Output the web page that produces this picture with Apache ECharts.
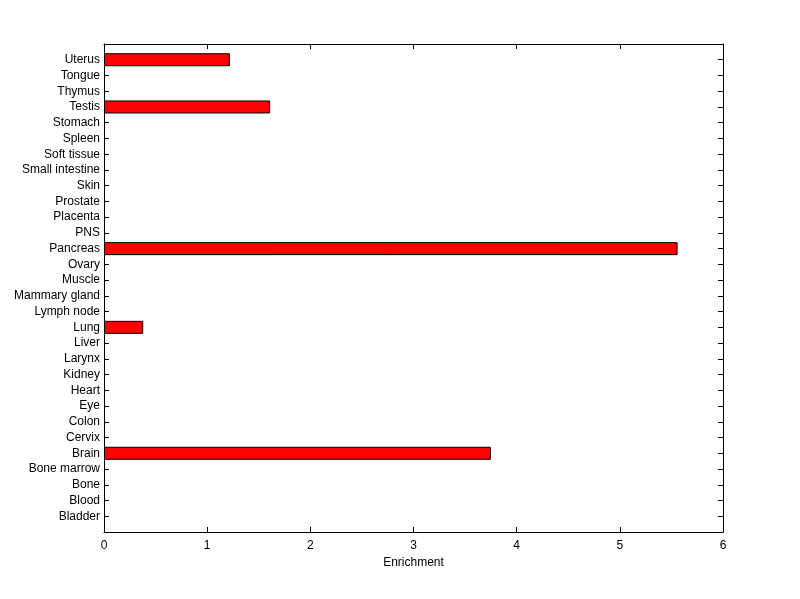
<!DOCTYPE html>
<html><head><meta charset="utf-8">
<script src="https://cdn.jsdelivr.net/npm/echarts@6/dist/echarts.min.js"></script>
<style>html,body{margin:0;padding:0;background:#fff}#c{width:800px;height:599px}</style>
</head><body><div id="c"></div>
<script>
const categories = ['Bladder','Blood','Bone','Bone marrow','Brain','Cervix','Colon','Eye','Heart','Kidney','Larynx','Liver','Lung','Lymph node','Mammary gland','Muscle','Ovary','Pancreas','PNS','Placenta','Prostate','Skin','Small intestine','Soft tissue','Spleen','Stomach','Testis','Thymus','Tongue','Uterus'];
const enrichment = [0,0,0,0,3.75,0,0,0,0,0,0,0,0.38,0,0,0,0,5.56,0,0,0,0,0,0,0,0,1.61,0,0,1.22];
const xTicks = [0,1,2,3,4,5,6];

const cats = [''].concat(categories, ['']);
const vals = [null].concat(enrichment.map(v => v > 0 ? v : null), [null]);
const font = 'Liberation Sans, Arial, sans-serif';
const chart = echarts.init(document.getElementById('c'), null, {renderer:'canvas'});
function yAx(pos, showLabel){
  return {
    type:'category', data:cats.slice(), boundaryGap:false, position:pos,
    axisLine:{show:true, onZero:false, lineStyle:{color:'#000', width:1}},
    axisTick:{show:true, inside:true, length:5, interval:0, lineStyle:{color:'#000', width:1}},
    splitLine:{show:false},
    axisLabel: showLabel ? {show:true, color:'#000', fontSize:12, fontFamily:font, margin:4, interval:0} : {show:false}
  };
}
function xAx(pos, showLabel){
  const a = {
    type:'value', min:xTicks[0], max:xTicks[xTicks.length-1], interval:1, position:pos,
    axisLine:{show:true, onZero:false, lineStyle:{color:'#000', width:1}},
    axisTick:{show:true, inside:true, length:5, lineStyle:{color:'#000', width:1}},
    splitLine:{show:false},
    axisLabel: showLabel ? {show:true, color:'#000', fontSize:12, fontFamily:font, margin:8} : {show:false}
  };
  if (showLabel) {
    a.name = 'Enrichment'; a.nameLocation = 'middle'; a.nameGap = 23;
    a.nameTextStyle = {color:'#000', fontSize:12, fontFamily:font};
  }
  return a;
}
chart.setOption({
  animation:false,
  backgroundColor:'#fff',
  grid:{left:104, right:77, top:44, bottom:67, containLabel:false},
  xAxis:[xAx('bottom', true), xAx('top', false)],
  yAxis:[yAx('left', true), yAx('right', false)],
  series:[{
    type:'bar', xAxisIndex:0, yAxisIndex:0, data:vals, barWidth:13,
    itemStyle:{color:'#ff0000', borderColor:'#000', borderWidth:1}
  }]
});
</script></body></html>
